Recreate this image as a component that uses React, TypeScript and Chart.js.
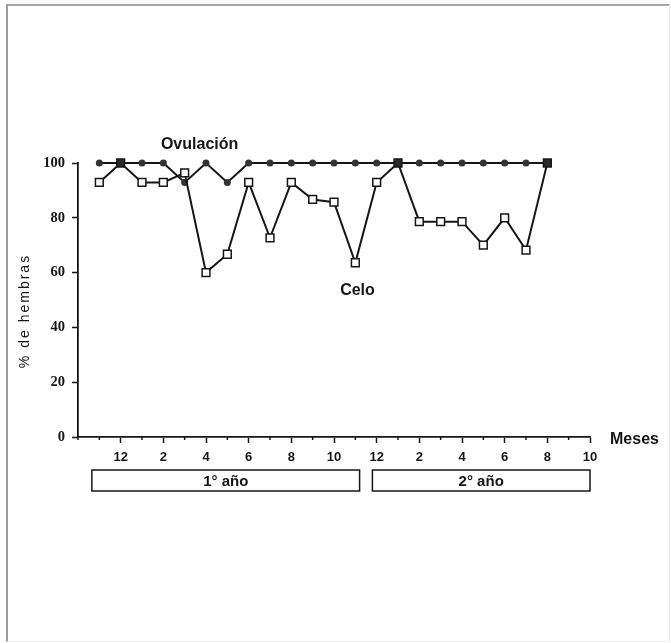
import React, { useEffect, useRef } from "react";
import { Chart, registerables } from "chart.js";

Chart.register(...registerables);

// Months along the axis (axis starts one month before the first observation)
const months = ['10', '11', '12', '1', '2', '3', '4', '5', '6', '7', '8', '9', '10', '11', '12', '1', '2', '3', '4', '5', '6', '7', '8', '9', '10'];
// % of females ovulating
const ovulacion = [null, 100, 100, 100, 100, 92.9, 100, 92.9, 100, 100, 100, 100, 100, 100, 100, 100, 100, 100, 100, 100, 100, 100, 100, null, null];
// % of females in heat
const celo = [null, 92.9, 100, 92.9, 92.9, 96.4, 60, 66.7, 92.9, 72.7, 92.9, 86.7, 85.7, 63.6, 92.9, 100, 78.6, 78.6, 78.6, 70, 80, 68.2, 100, null, null];
const yTicks = [0, 20, 40, 60, 80, 100];
const yearLabels = ['1° año', '2° año'];

const INK = '#161616';

function isMajor(i: number) {
  return i > 0 && Number(months[i]) % 2 === 0;
}

const annotations = {
  id: 'annotations',
  afterDraw(chart: any) {
    const { ctx, chartArea, scales } = chart;
    const x = scales.x;
    const y = scales.y;
    ctx.save();
    // minor ticks
    ctx.strokeStyle = INK;
    ctx.lineWidth = 1.5;
    months.forEach((_, i) => {
      if (isMajor(i)) return;
      const px = x.getPixelForValue(i);
      ctx.beginPath();
      ctx.moveTo(px, chartArea.bottom);
      ctx.lineTo(px, chartArea.bottom + 3);
      ctx.stroke();
    });

    ctx.fillStyle = INK;
    ctx.textBaseline = 'middle';
    ctx.font = 'bold 16px "Liberation Sans", Arial, sans-serif';
    ctx.textAlign = 'center';
    ctx.fillText('Ovulación', x.getPixelForValue(5.7), y.getPixelForValue(106.8));
    ctx.fillText('Celo', x.getPixelForValue(13.1), y.getPixelForValue(53.6));
    ctx.textAlign = 'left';
    ctx.fillText('Meses', chartArea.right + 20, chartArea.bottom + 3);

    // year boxes
    const spans = [[0.65, 13.2], [13.8, 24]];
    const top = chartArea.bottom + 33;
    const h = 21;
    ctx.lineWidth = 1.5;
    ctx.font = 'bold 15px "Liberation Sans", Arial, sans-serif';
    ctx.textAlign = 'center';
    spans.forEach((s, k) => {
      const a = x.getPixelForValue(s[0]);
      const b = x.getPixelForValue(s[1]);
      ctx.strokeRect(a, top, b - a, h);
      ctx.fillText(yearLabels[k], (a + b) / 2, top + h / 2 + 1);
    });

    // y axis title
    ctx.translate(25, 311);
    ctx.rotate(-Math.PI / 2);
    ctx.font = '14px "Liberation Sans", Arial, sans-serif';
    (ctx as any).letterSpacing = '2px';
    ctx.textAlign = 'center';
    ctx.fillText('% de hembras', 0, 0);
    ctx.restore();
  },
};

export default function App() {
  const ref = useRef<HTMLCanvasElement>(null);
  useEffect(() => {
    if (!ref.current) return;
    const chart = new Chart(ref.current, {
      type: 'line',
      data: {
        labels: months,
        datasets: [
          {
            label: 'Celo',
            data: celo as any,
            order: 0,
            clip: false as any,
            borderColor: INK,
            borderWidth: 2,
            pointStyle: 'rect',
            pointRadius: 5.5,
            pointBorderWidth: 1.5,
            pointBorderColor: INK,
            pointBackgroundColor: (c: any) => (c.raw === 100 ? '#2a2a2a' : '#ffffff'),
            tension: 0,
            spanGaps: false,
          },
          {
            label: 'Ovulación',
            data: ovulacion as any,
            order: 1,
            clip: false as any,
            borderColor: INK,
            borderWidth: 2,
            pointStyle: 'circle',
            pointRadius: 3.5,
            pointBorderWidth: 0,
            pointBackgroundColor: '#333333',
            tension: 0,
          },
        ],
      },
      options: {
        animation: false,
        responsive: false,
        layout: { padding: { left: 0, right: 81, top: 163, bottom: 166 } },
        plugins: { legend: { display: false }, tooltip: { enabled: false } },
        scales: {
          x: {
            type: 'category',
            offset: false,
            afterFit: (s: any) => { s.height = 40; },
            grid: {
              drawOnChartArea: false,
              tickLength: 6,
              tickWidth: 1.5,
              tickColor: (c: any) => (isMajor(c.index) ? INK : 'rgba(0,0,0,0)'),
            },
            border: { color: INK, width: 1.8 },
            ticks: {
              autoSkip: false,
              maxRotation: 0,
              padding: 7,
              color: INK,
              font: { family: '"Liberation Sans", Arial, sans-serif', size: 13, weight: 'bold' },
              callback: (_v: any, i: number) => (isMajor(i) ? months[i] : ''),
            },
          },
          y: {
            min: 0,
            max: 100,
            afterFit: (s: any) => { s.width = 78; },
            afterBuildTicks: (s: any) => { s.ticks = yTicks.map((v) => ({ value: v })); },
            grid: { drawOnChartArea: false, tickLength: 6, tickWidth: 1.5, tickColor: INK },
            border: { color: INK, width: 1.8 },
            ticks: {
              padding: 7,
              color: INK,
              font: { family: '"Liberation Serif", "Times New Roman", serif', size: 14.5, weight: 'bold' },
            },
          },
        },
      },
      plugins: [annotations],
    });
    return () => chart.destroy();
  }, []);

  return (
    <div style={{ position: 'fixed', left: 0, top: 0, width: 671, height: 643, background: '#fff', overflow: 'hidden' }}>
      <div style={{ position: 'absolute', left: 6, top: 4, right: 1, bottom: 1, borderLeft: '2px solid #9a9a9a', borderTop: '2px solid #a8a8a8', borderRight: '1px solid #eeeeee', borderBottom: '1px solid #eeeeee' }} />
      <canvas ref={ref} width={671} height={643} style={{ position: 'absolute', left: 0, top: 0, width: 671, height: 643 }} />
    </div>
  );
}
